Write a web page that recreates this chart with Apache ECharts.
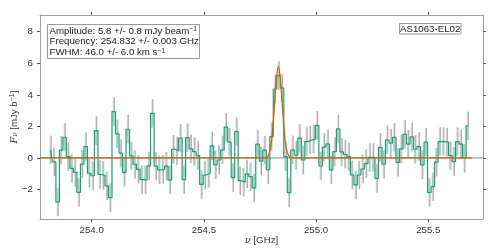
<!DOCTYPE html>
<html><head><meta charset="utf-8">
<script src="https://cdn.jsdelivr.net/npm/echarts@6/dist/echarts.min.js"></script>
<style>html,body{margin:0;padding:0;background:#fff}#c{width:498px;height:249px}</style>
</head><body><div id="c"></div>
<script>
// channel grid (GHz)
const chanStart = 253.817;
const chanWidth = 0.015625;
// flux density per channel (mJy/beam)
const flux = [
 0.51,-0.25,-2.8,0.5,1.31,0.08,-0.66,-0.92,-2.18,-0.39,
 0.72,-0.97,-1.13,1.73,-1.05,-1.1,-1.77,-2.52,2.94,1.52,
 0.3,-0.91,1.82,0.13,-0.4,-0.72,-1.38,-1.4,-0.5,2.83,
 -0.52,-0.76,-0.72,-0.52,-1.4,0.55,0.45,1.25,-1.38,1.29,
 0.57,0.4,0.15,-1.68,-1.08,-0.97,0.76,-0.44,-0.13,0.51,
 1.95,1.0,-1.25,1.67,-1.44,-1.54,-1.01,-1.18,-1.9,0.87,
 -0.2,0.5,-0.75,1.35,4.37,5.22,4.42,0.08,-2.2,0.51,
 0.17,1.25,-0.13,1.04,1.14,1.18,2.07,-0.51,0.68,0.89,
 -0.76,0.4,1.84,0.38,0.23,0.08,-1.08,-1.71,-1.08,-0.7,
 -0.36,0.03,0.03,-1.3,0.67,-0.4,1.15,0.93,1.3,-0.28,
 0.58,1.5,0.88,1.33,0.55,0.72,-0.44,1.0,-2.18,-1.82,
 -0.27,1.04,1.04,1.0,0.15,-0.23,1.04,0.87,-0.02,2.03];
// 1-sigma errors (estimated)
const fluxErr = [
 0.9,0.9,0.9,0.9,0.9,0.9,0.9,0.9,0.9,0.9,
 0.9,0.9,0.9,0.9,0.9,0.9,0.9,0.9,0.9,0.9,
 0.9,0.9,0.9,0.9,0.9,0.9,0.9,0.9,0.9,0.9,
 0.9,0.9,0.9,0.9,0.9,0.9,0.9,0.9,0.9,0.9,
 0.9,0.9,0.9,0.9,0.9,0.9,0.9,0.9,0.9,0.9,
 0.9,0.9,0.9,0.9,0.9,0.9,0.9,0.9,0.9,0.9,
 0.9,0.9,0.9,0.9,0.9,0.9,0.9,0.9,0.9,0.9,
 0.9,0.9,0.9,0.9,0.9,0.9,0.9,0.9,0.9,0.9,
 0.9,0.9,0.9,0.9,0.9,0.9,0.9,0.9,0.9,0.9,
 0.9,0.9,0.9,0.9,0.9,0.9,0.9,0.9,0.9,0.9,
 0.9,0.9,0.9,0.9,0.9,0.9,0.9,0.9,0.9,0.9,
 0.9,0.9,0.9,0.9,0.9,0.9,0.9,0.9,0.9,0.9];
// fitted model curve
const modelFreq = [253.7696,254.772,254.782,254.792,254.802,254.812,254.822,254.832,254.842,254.852,254.862,254.872,254.882,254.892,255.695];
const modelFlux = [0,0.01,0.06,0.32,1.13,2.8,4.85,5.8,4.85,2.8,1.13,0.32,0.06,0.01,0];
const xTicks = [254.0,254.5,255.0,255.5];
const yTicks = [-2,0,2,4,6,8];
const fitText = ['Amplitude: 5.8 +/- 0.8 mJy beam{s|\u22121}','Frequency: 254.832 +/- 0.003 GHz','FWHM: 46.0 +/- 6.0 km s{s|\u22121}'];
const sourceName = 'AS1063-EL02';

const freq = flux.map((_, i) => chanStart + i * chanWidth);
const xMin = 253.7696, xMax = 255.7438, yMin = -3.87, yMax = 9.06;
const font = "'Liberation Sans', Arial, sans-serif";
const fs = 9.7;
const spine = {show:true, onZero:false, lineStyle:{color:'#a0a0a0', width:1}};
const tickX = {show:true, inside:false, length:3, customValues:xTicks, lineStyle:{color:'#555', width:1}};
const tickY = {show:true, inside:false, length:3, customValues:yTicks, lineStyle:{color:'#555', width:1}};

const chart = echarts.init(document.getElementById('c'));
chart.setOption({
  animation:false,
  grid:{left:40, right:15, top:15, bottom:30, containLabel:false, outerBoundsMode:'none'},
  xAxis:[
    {type:'value', min:xMin, max:xMax, position:'bottom', axisLine:spine, axisTick:tickX,
     axisLabel:{customValues:xTicks, formatter:v=>v.toFixed(1), color:'#333', fontSize:fs, fontFamily:font, margin:6},
     splitLine:{show:false},
     name:'{i|\u03bd} [GHz]', nameLocation:'middle', nameGap:16, nameMoveOverlap:false,
     nameTextStyle:{color:'#333', fontSize:fs, fontFamily:font,
       rich:{i:{fontStyle:'italic', fontFamily:"'DejaVu Serif', serif", fontSize:fs, color:'#333'}}}},
    {type:'value', min:xMin, max:xMax, position:'top', axisLine:spine, axisTick:tickX,
     axisLabel:{show:false}, splitLine:{show:false}}
  ],
  yAxis:[
    {type:'value', min:yMin, max:yMax, position:'left', axisLine:spine, axisTick:tickY,
     axisLabel:{customValues:yTicks, formatter:v=>v<0?'\u2212'+Math.abs(v):String(v), color:'#333', fontSize:fs, fontFamily:font, margin:7},
     splitLine:{show:false},
     name:'{i|F}{sub|\u03bd} [mJy b{sup|\u22121}]', nameLocation:'middle', nameRotate:90, nameGap:21, nameMoveOverlap:false,
     nameTextStyle:{color:'#333', fontSize:fs, fontFamily:font,
       rich:{i:{fontStyle:'italic', fontFamily:"'DejaVu Serif', serif", fontSize:fs, color:'#333'},
             sub:{fontStyle:'italic', fontFamily:"'DejaVu Serif', serif", fontSize:7, color:'#333', verticalAlign:'bottom', lineHeight:6},
             sup:{fontSize:7, color:'#333', verticalAlign:'top', lineHeight:6, fontFamily:font}}}},
    {type:'value', min:yMin, max:yMax, position:'right', axisLine:spine, axisTick:tickY,
     axisLabel:{show:false}, splitLine:{show:false}}
  ],
  series:[
    {type:'custom', name:'err', clip:true, z:1,
     data:freq.map((f,i)=>[f, flux[i], fluxErr[i]]),
     encode:{x:0, y:1},
     renderItem:(params, api)=>{
       const f=api.value(0), v=api.value(1), e=api.value(2);
       const pm=api.coord([f,v]), pt=api.coord([f,v+e]), pb=api.coord([f,v-e]);
       const away = v>=0 ? pt : pb, toward = v>=0 ? pb : pt;
       return {type:'group', children:[
         {type:'line', shape:{x1:pt[0], y1:pt[1], x2:pb[0], y2:pb[1]}, style:{stroke:'#dadada', lineWidth:2}},
         {type:'line', shape:{x1:pm[0], y1:pm[1], x2:toward[0], y2:toward[1]}, style:{stroke:'rgba(27,158,119,0.25)', lineWidth:2}},
         {type:'line', shape:{x1:pm[0]+0.5, y1:pm[1], x2:away[0]+0.5, y2:away[1]}, style:{stroke:'#a8a8a8', lineWidth:1}}
       ]};
     }},
    {type:'line', name:'zero', data:[[xMin,0],[xMax,0]], showSymbol:false, silent:true, z:2,
     lineStyle:{color:'#888', width:1}},
    {type:'line', name:'spec', data:freq.map((f,i)=>[f, flux[i]]), step:'middle', showSymbol:false, z:3,
     lineStyle:{color:'#1b9e77', width:1.2}},
    {type:'line', name:'model', data:modelFreq.map((f,i)=>[f, modelFlux[i]]), smooth:0.3, showSymbol:false, z:4,
     lineStyle:{color:'#d95f02', width:1.3}}
  ],
  graphic:[
    {type:'rect', shape:{x:47.5, y:24.5, width:152, height:34}, style:{fill:'#fff', stroke:'#999', lineWidth:1}, z:10},
    ...fitText.map((t,k)=>({type:'text', x:49.5, y:31+k*10.7, z:11,
       style:{text:t, fill:'#1a1a1a', fontSize:fs, fontFamily:font, verticalAlign:'middle', align:'left',
         rich:{s:{fontSize:6.8, fontFamily:font, fill:'#1a1a1a', verticalAlign:'top', lineHeight:6}}}})),
    {type:'rect', shape:{x:399.5, y:23.5, width:61.5, height:10.5}, style:{fill:'#fff', stroke:'#999', lineWidth:1}, z:10},
    {type:'text', x:430.2, y:29, z:11, style:{text:sourceName, fill:'#1a1a1a', fontSize:fs, fontFamily:font, align:'center', verticalAlign:'middle'}}
  ]
});
</script></body></html>
